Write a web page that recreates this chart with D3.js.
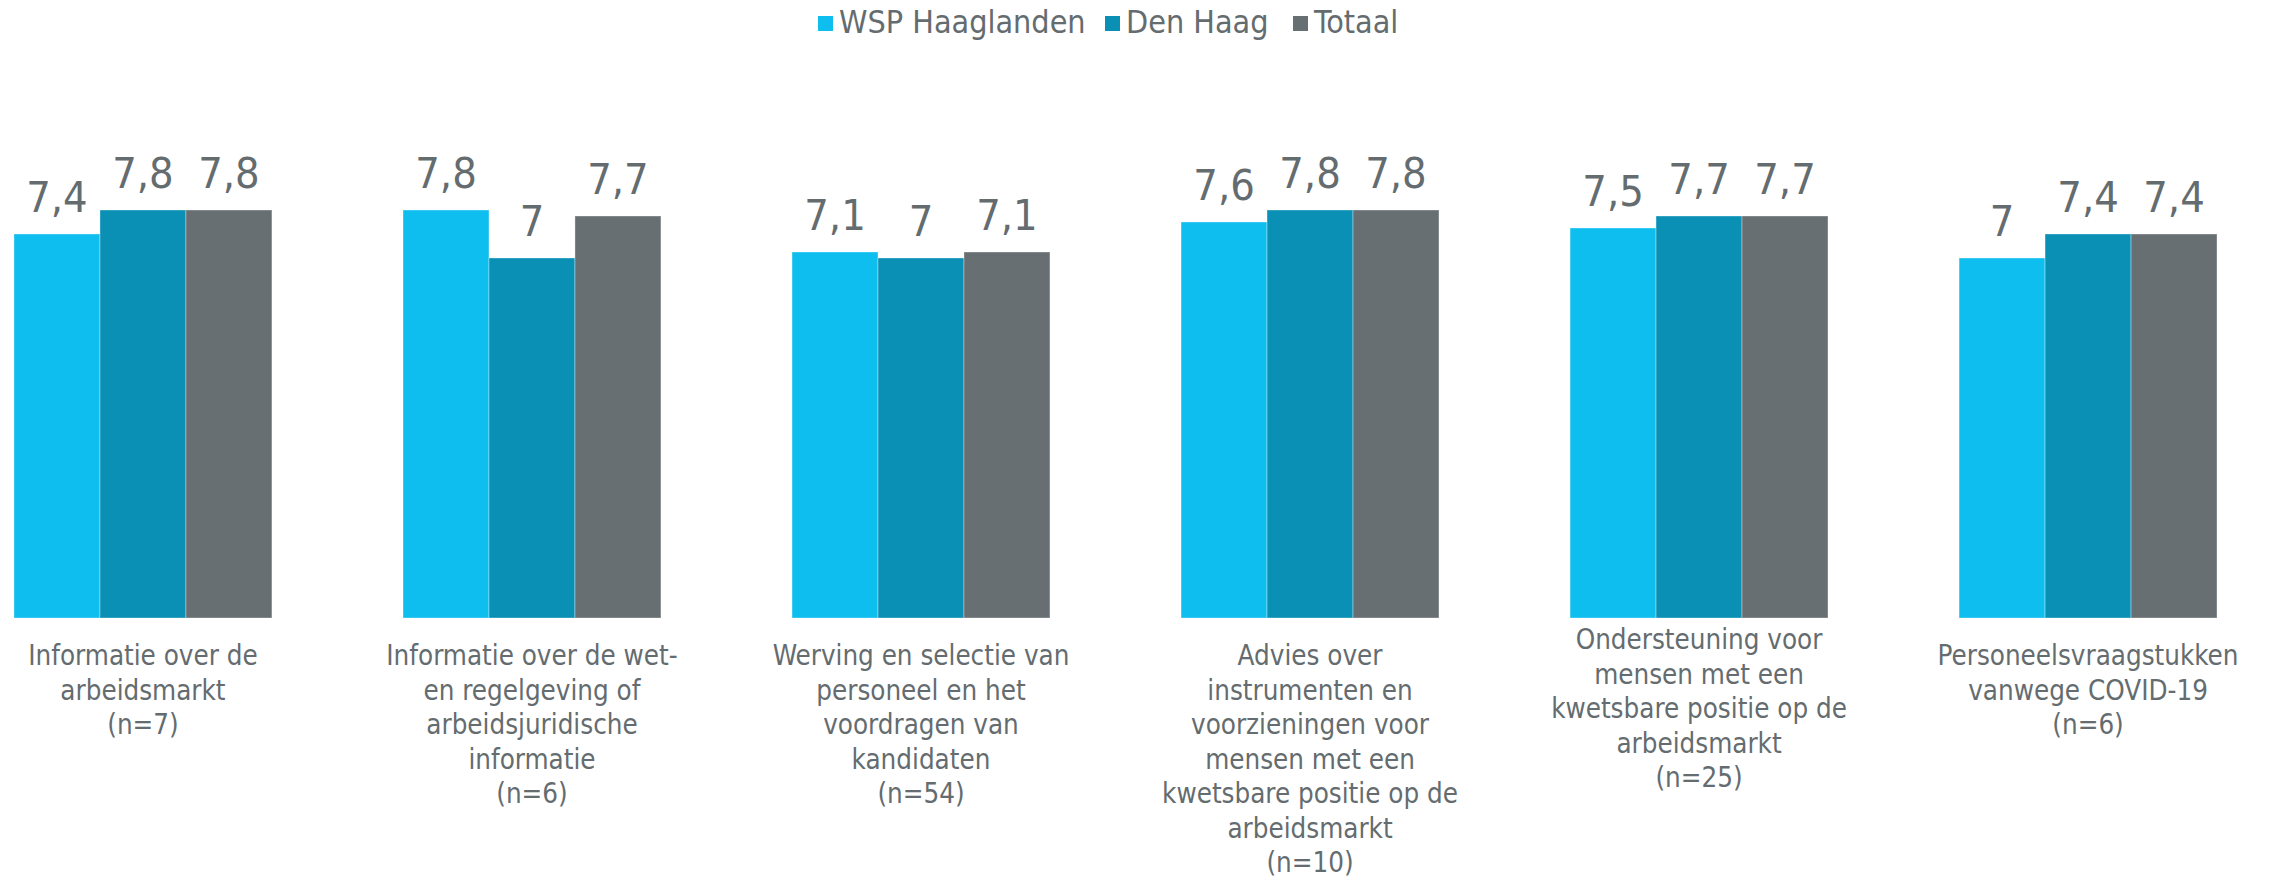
<!DOCTYPE html>
<html>
<head>
<meta charset="utf-8">
<script src="https://cdn.jsdelivr.net/npm/d3@7"></script>
<style>
  body { margin: 0; background: #fff; }
  text { font-family: "DejaVu Sans Condensed", "DejaVu Sans", sans-serif; font-stretch: condensed; fill: #646c6f; }
</style>
</head>
<body>
<div id="chart"></div>
<script>
// data
var categories = [
    ["Informatie over de", "arbeidsmarkt", "(n=7)"],
    ["Informatie over de wet-", "en regelgeving of", "arbeidsjuridische", "informatie", "(n=6)"],
    ["Werving en selectie van", "personeel en het", "voordragen van", "kandidaten", "(n=54)"],
    ["Advies over", "instrumenten en", "voorzieningen voor", "mensen met een", "kwetsbare positie op de", "arbeidsmarkt", "(n=10)"],
    ["Ondersteuning voor", "mensen met een", "kwetsbare positie op de", "arbeidsmarkt", "(n=25)"],
    ["Personeelsvraagstukken", "vanwege COVID-19", "(n=6)"]
];
var seriesNames = ["WSP Haaglanden", "Den Haag", "Totaal"];
var wspValues = [7.4, 7.8, 7.1, 7.6, 7.5, 7.0];
var denHaagValues = [7.8, 7.0, 7.0, 7.8, 7.7, 7.4];
var totaalValues = [7.8, 7.7, 7.1, 7.8, 7.7, 7.4];
var colors = ["#0ebeee", "#0a8fb5", "#676f72"];

var width = 2279, height = 881;

var svg = d3.select("#chart")
    .append("svg")
    .attr("width", width)
    .attr("height", height);

var series = [wspValues, denHaagValues, totaalValues];
var rows = categories.map(function (c, i) {
    return { idx: i, lines: c, values: series.map(function (s, j) { return { name: seriesNames[j], v: s[i] }; }) };
});

// x scales
var x0 = d3.scaleBand()
    .domain(d3.range(categories.length))
    .range([14, 2217])
    .paddingInner(0.337)
    .paddingOuter(0);
var x1 = d3.scaleBand()
    .domain(seriesNames)
    .range([0, x0.bandwidth()]);

// y scale, axis starts at 1 (hidden)
var y = d3.scaleLinear()
    .domain([1, 10])
    .range([618, 78]);

var fmt = function (v) { return String(v).replace(".", ","); };

var groups = svg.selectAll("g.grp")
    .data(rows)
    .enter()
    .append("g")
    .attr("class", "grp")
    .attr("transform", function (d) { return "translate(" + x0(d.idx) + ",0)"; });

groups.selectAll("rect")
    .data(function (d) { return d.values; })
    .enter()
    .append("rect")
    .attr("x", function (d) { return x1(d.name); })
    .attr("y", function (d) { return y(d.v); })
    .attr("width", x1.bandwidth())
    .attr("height", function (d) { return y(1) - y(d.v); })
    .attr("fill", function (d, i) { return colors[i]; })
    .attr("stroke", "#ffffff")
    .attr("stroke-opacity", 0.35)
    .attr("stroke-width", 1);

// value labels
groups.selectAll("text.val")
    .data(function (d) { return d.values; })
    .enter()
    .append("text")
    .attr("class", "val")
    .attr("x", function (d) { return x1(d.name) + x1.bandwidth() / 2; })
    .attr("y", function (d) { return y(d.v) - 22; })
    .attr("text-anchor", "middle")
    .style("font-size", "43px")
    .text(function (d) { return fmt(d.v); });

// category labels
var labelShift = { 4: -16 };
groups.append("text")
    .attr("class", "cat")
    .attr("text-anchor", "middle")
    .style("font-size", "27.5px")
    .attr("transform", function (d) { return "translate(" + x0.bandwidth() / 2 + "," + (665 + (labelShift[d.idx] || 0)) + ")"; })
    .selectAll("tspan")
    .data(function (d) { return d.lines; })
    .enter()
    .append("tspan")
    .attr("x", 0)
    .attr("y", function (d, i) { return i * 34.5; })
    .text(function (d) { return d; });

// legend
var legendX = [818, 1105, 1293];
var legend = svg.selectAll("g.leg")
    .data(seriesNames)
    .enter()
    .append("g")
    .attr("class", "leg")
    .attr("transform", function (d, i) { return "translate(" + legendX[i] + ",16)"; });

legend.append("rect")
    .attr("width", 15)
    .attr("height", 15)
    .attr("fill", function (d, i) { return colors[i]; });

legend.append("text")
    .attr("x", 21)
    .attr("y", 17)
    .style("font-size", "32px")
    .text(function (d) { return d; });
</script>
</body>
</html>
